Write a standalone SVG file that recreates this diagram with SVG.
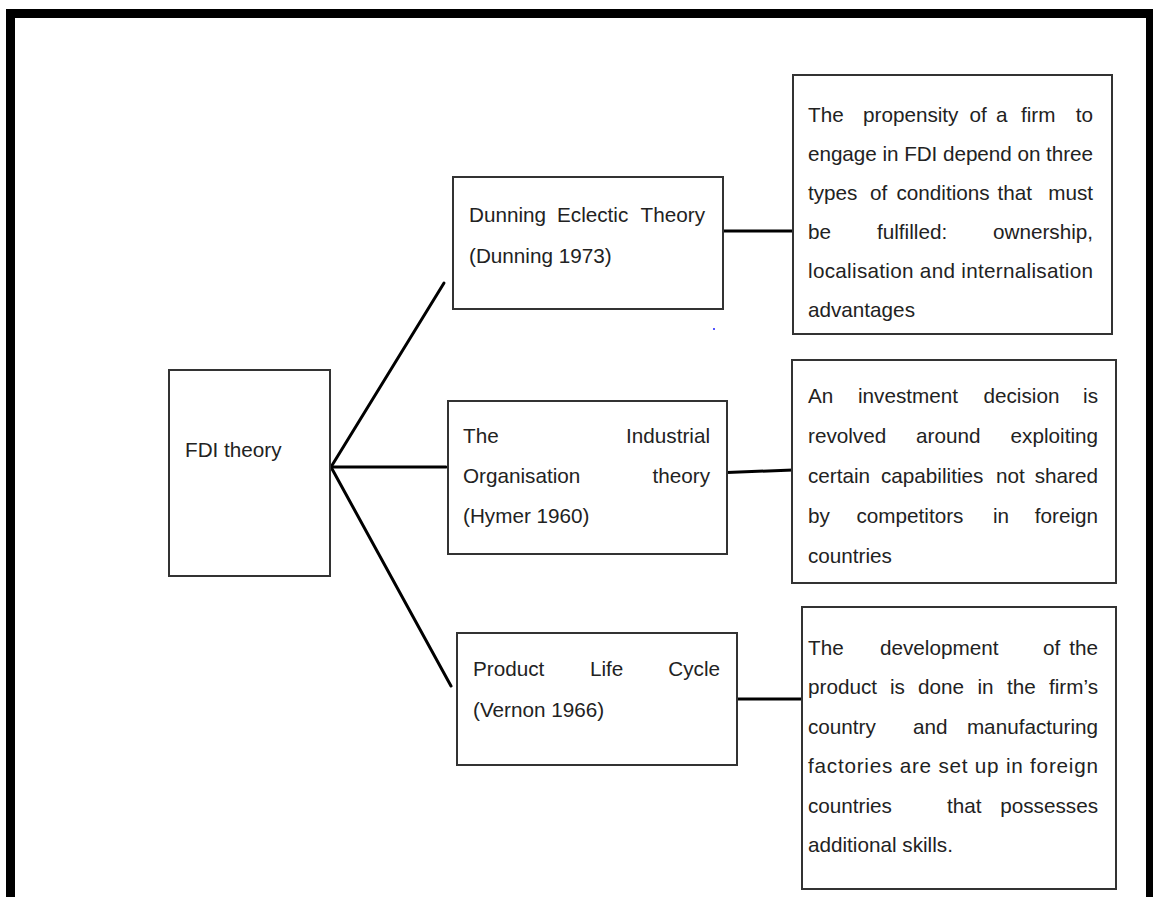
<svg xmlns="http://www.w3.org/2000/svg" width="1153" height="897" viewBox="0 0 1153 897">
<style>
.t{font-family:"Liberation Sans",Arial,sans-serif;font-size:20.7px;fill:#222}
.e{text-anchor:end}
.box{fill:#fff;stroke:#333;stroke-width:2}
.c{stroke:#000;stroke-width:3;fill:none;stroke-linecap:round}
</style>
<rect width="1153" height="897" fill="#fff"/>
<g id="frame">
<path d="M10.5 897 V13.5 H1150.5 V897" fill="none" stroke="#000" stroke-width="9"/>
</g>
<g id="connectors">
<line class="c" x1="331" y1="467" x2="444" y2="283"/>
<line class="c" x1="331" y1="467" x2="446" y2="467"/>
<line class="c" x1="331" y1="467" x2="451" y2="686"/>
<line class="c" x1="723" y1="231" x2="793" y2="231"/>
<line class="c" x1="727" y1="472.5" x2="793" y2="470"/>
<line class="c" x1="737" y1="699" x2="801" y2="699"/>
</g>
<g id="fdi">
<rect class="box" x="169" y="370" width="161" height="206"/>
<text class="t" x="185" y="457">FDI theory</text>
</g>
<g id="dunning">
<rect class="box" x="453" y="177" width="270" height="132"/>
<text class="t" y="222"><tspan x="469">Dunning</tspan><tspan x="557">Eclectic</tspan></text>
<text class="t e" x="705" y="222">Theory</text>
<text class="t" x="469" y="263">(Dunning 1973)</text>
</g>
<g id="industrial">
<rect class="box" x="448" y="401" width="279" height="153"/>
<text class="t" x="463" y="443">The</text>
<text class="t e" x="710" y="443">Industrial</text>
<text class="t" x="463" y="483">Organisation</text>
<text class="t e" x="710" y="483">theory</text>
<text class="t" x="463" y="523">(Hymer 1960)</text>
</g>
<g id="product">
<rect class="box" x="457" y="633" width="280" height="132"/>
<text class="t" y="676"><tspan x="473">Product</tspan><tspan x="590">Life</tspan></text>
<text class="t e" x="720" y="676">Cycle</text>
<text class="t" x="473" y="717">(Vernon 1966)</text>
</g>
<g id="eclectic-desc">
<rect class="box" x="793" y="75" width="319" height="259"/>
<text class="t" y="122"><tspan x="808">The</tspan><tspan x="863">propensity</tspan><tspan x="969.5">of</tspan><tspan x="996">a</tspan><tspan x="1021">firm</tspan></text>
<text class="t e" x="1093" y="122">to</text>
<text class="t" x="808" y="161" textLength="285" lengthAdjust="spacing">engage in FDI depend on three</text>
<text class="t" y="200"><tspan x="808">types</tspan><tspan x="870">of</tspan><tspan x="896.5">conditions</tspan><tspan x="997.5">that</tspan></text>
<text class="t e" x="1093" y="200">must</text>
<text class="t" y="239"><tspan x="808">be</tspan><tspan x="877">fulfilled:</tspan></text>
<text class="t e" x="1093" y="239">ownership,</text>
<text class="t" x="808" y="278" textLength="285" lengthAdjust="spacing">localisation and internalisation</text>
<text class="t" x="808" y="317">advantages</text>
</g>
<g id="industrial-desc">
<rect class="box" x="792" y="360" width="324" height="223"/>
<text class="t" y="403"><tspan x="808">An</tspan><tspan x="858">investment</tspan><tspan x="983.5">decision</tspan></text>
<text class="t e" x="1098" y="403">is</text>
<text class="t" y="443"><tspan x="808">revolved</tspan><tspan x="916">around</tspan></text>
<text class="t e" x="1098" y="443">exploiting</text>
<text class="t" y="483"><tspan x="808">certain</tspan><tspan x="881">capabilities</tspan><tspan x="996">not</tspan></text>
<text class="t e" x="1098" y="483">shared</text>
<text class="t" y="523"><tspan x="808">by</tspan><tspan x="856.5">competitors</tspan><tspan x="993">in</tspan></text>
<text class="t e" x="1098" y="523">foreign</text>
<text class="t" x="808" y="563">countries</text>
</g>
<g id="product-desc">
<rect class="box" x="802" y="607" width="314" height="282"/>
<text class="t" y="655"><tspan x="808">The</tspan><tspan x="880">development</tspan><tspan x="1043">of</tspan></text>
<text class="t e" x="1098" y="655">the</text>
<text class="t" y="694"><tspan x="808">product</tspan><tspan x="890">is</tspan><tspan x="918">done</tspan><tspan x="977.5">in</tspan><tspan x="1007">the</tspan></text>
<text class="t e" x="1098" y="694">firm’s</text>
<text class="t" y="734"><tspan x="808">country</tspan><tspan x="913">and</tspan></text>
<text class="t e" x="1098" y="734">manufacturing</text>
<text class="t" x="808" y="773" textLength="290" lengthAdjust="spacing">factories are set up in foreign</text>
<text class="t" y="813"><tspan x="808">countries</tspan><tspan x="947">that</tspan></text>
<text class="t e" x="1098" y="813">possesses</text>
<text class="t" x="808" y="852">additional skills.</text>
</g>
<rect x="713" y="328" width="2" height="2" fill="#55f"/>
</svg>
